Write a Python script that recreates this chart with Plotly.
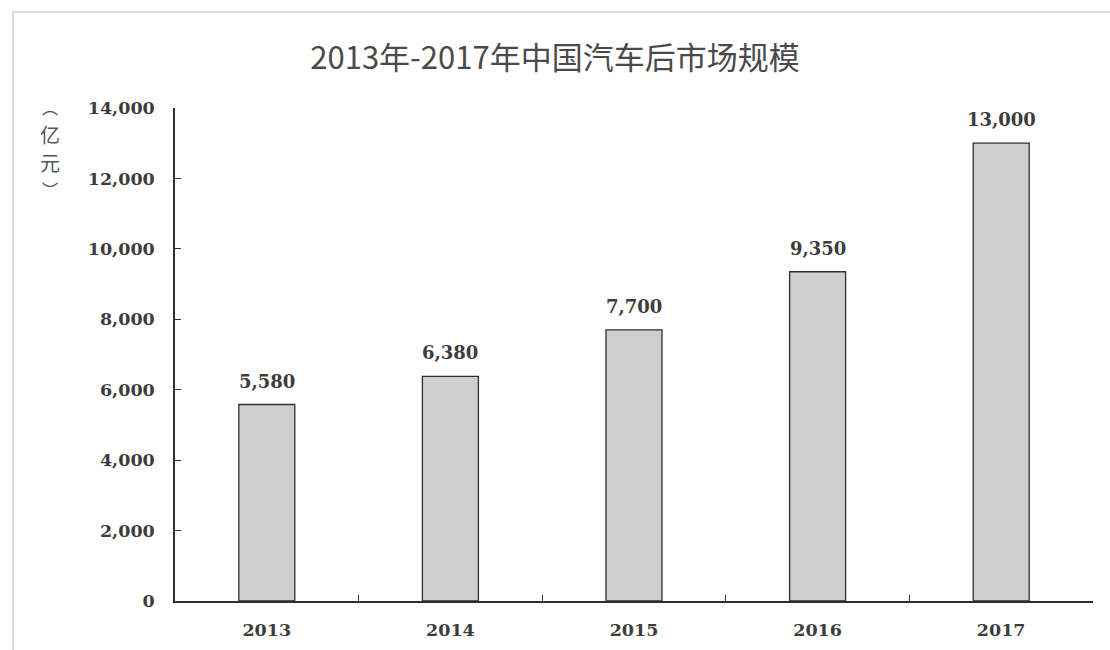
import plotly.graph_objects as go

# 中国汽车后市场规模（亿元）
years = ["2013", "2014", "2015", "2016", "2017"]
market_size = [5580, 6380, 7700, 9350, 13000]
y_ticks = [0, 2000, 4000, 6000, 8000, 10000, 12000, 14000]

serif = "DejaVu Serif, serif"
cjk = "Noto Sans CJK SC, sans-serif"
ink = "#3d3d3d"

L, R, T, B = 175, 1093, 108, 601
W, H = 1110, 650
pw, ph = R - L, B - T

fig = go.Figure(
    go.Bar(
        x=years,
        y=market_size,
        marker=dict(color="#d0cfcf", line=dict(color="#2e2e2e", width=1.3)),
        width=0.305,
        hoverinfo="x+y",
    )
)

# value labels above each bar (category axis positions are serial indices)
value_labels = [
    dict(
        x=i,
        y=v,
        xref="x",
        yref="y",
        text=f"{v:,}",
        showarrow=False,
        yanchor="bottom",
        yshift=11,
        font=dict(family=serif, size=18, color=ink, weight="bold"),
    )
    for i, v in enumerate(market_size)
]

# vertical unit label: ︵亿元︶
unit_label = [
    dict(text="︵", y=107, size=16),
    dict(text="亿", y=134, size=20),
    dict(text="元", y=162, size=20),
    dict(text="︶", y=189, size=16),
]
unit_annotations = [
    dict(
        text=u["text"],
        xref="paper",
        yref="paper",
        x=(50 - L) / pw,
        y=1 - (u["y"] - T) / ph,
        xanchor="center",
        yanchor="middle",
        showarrow=False,
        font=dict(family=cjk, size=u["size"], color="#555555"),
    )
    for u in unit_label
]

fig.update_layout(
    width=W,
    height=H,
    margin=dict(l=L, r=W - R, t=T, b=H - B, autoexpand=False),
    paper_bgcolor="white",
    plot_bgcolor="white",
    showlegend=False,
    title=dict(
        text="2013年-2017年中国汽车后市场规模",
        font=dict(family=cjk, size=31, color="#4a4a4a"),
        x=555 / W,
        xanchor="center",
        y=1 - 58 / H,
        yanchor="middle",
    ),
    xaxis=dict(
        type="category",
        range=[-0.5, len(years) - 0.5],
        showline=True,
        linecolor="#2e2e2e",
        linewidth=1.5,
        ticks="inside",
        tickson="boundaries",
        ticklen=6,
        tickcolor="#2e2e2e",
        tickfont=dict(family=serif, size=17.5, color=ink, weight="bold"),
        ticklabelstandoff=12,
        showgrid=False,
        zeroline=False,
        automargin=False,
    ),
    yaxis=dict(
        range=[0, 14000],
        tickvals=y_ticks,
        tickformat=",",
        showline=True,
        linecolor="#2e2e2e",
        linewidth=1.5,
        ticks="inside",
        ticklen=6,
        tickcolor="#2e2e2e",
        tickfont=dict(family=serif, size=17.5, color=ink, weight="bold"),
        ticklabelstandoff=15,
        showgrid=False,
        zeroline=False,
        automargin=False,
    ),
    annotations=value_labels + unit_annotations,
    shapes=[
        # frame around the chart area
        dict(
            type="rect",
            xref="paper",
            yref="paper",
            x0=(13 - L) / pw,
            x1=(W + 10 - L) / pw,
            y0=-(H + 10 - B) / ph,
            y1=1 + (T - 12) / ph,
            line=dict(color="#d9d9d9", width=2),
            layer="below",
        )
    ],
)

fig.write_html("out.html")
